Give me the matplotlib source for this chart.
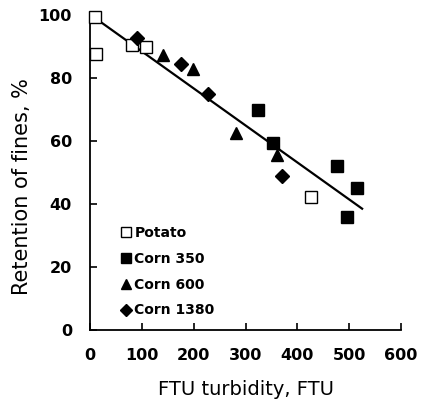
import matplotlib
matplotlib.use("Agg")
import matplotlib.pyplot as plt
import numpy as np

# Data
potato_x = [10, 12, 81, 108, 426]
potato_y = [99.5, 87.5, 90.5, 89.8, 42.2]
corn350_x = [324, 353, 476, 515, 496]
corn350_y = [69.8, 59.4, 52.1, 45.0, 36.0]
corn600_x = [141, 199, 282, 361]
corn600_y = [87.3, 83.0, 62.5, 55.5]
corn1380_x = [91, 176, 228, 370]
corn1380_y = [92.8, 84.3, 74.8, 49.0]
fit_x = [8, 525]
fit_intercept = 100.2
fit_slope = -0.1175

xticks = [0, 100, 200, 300, 400, 500, 600]
yticks = [0, 20, 40, 60, 80, 100]

fig = plt.figure(figsize=(4.21, 4.01), dpi=100)
ax = fig.add_axes([90/421, 71/401, 311/421, 315/401])

ms = 9
ax.plot(potato_x, potato_y, 's', mfc='white', mec='black', mew=1.0, ms=8.5,
        label='Potato', clip_on=False, zorder=3)
ax.plot(corn350_x, corn350_y, 's', color='black', ms=ms, label='Corn 350',
        clip_on=False, zorder=3)
ax.plot(corn600_x, corn600_y, '^', color='black', ms=ms, label='Corn 600',
        clip_on=False, zorder=3)
ax.plot(corn1380_x, corn1380_y, 'D', color='black', ms=7.5, label='Corn 1380',
        clip_on=False, zorder=3)

fx = np.array(fit_x, dtype=float)
ax.plot(fx, fit_intercept + fit_slope * fx, '-', color='black', lw=1.6, zorder=2)

ax.set_xlim(0, 600)
ax.set_ylim(0, 100)
ax.set_xticks(xticks)
ax.set_yticks(yticks)
for s in ['top', 'right']:
    ax.spines[s].set_visible(False)
for s in ['left', 'bottom']:
    ax.spines[s].set_linewidth(1.3)
ax.tick_params(direction='in', length=5, width=1.2, pad=13, labelsize=11.5)
for lab in ax.get_xticklabels() + ax.get_yticklabels():
    lab.set_fontweight('bold')

ax.set_xlabel('FTU turbidity, FTU', fontsize=14, family='DejaVu Sans', labelpad=12)
ax.set_ylabel('Retention of fines, %', fontsize=15, family='DejaVu Sans')
ax.yaxis.set_label_coords(-0.185, 0.455)

leg = ax.legend(loc='lower left', bbox_to_anchor=(0.06, 0.0), frameon=False,
                handlelength=0.7, handletextpad=0.25, labelspacing=0.85,
                markerscale=0.85, prop={'weight': 'bold', 'size': 10})

fig.savefig('out.png', dpi=100)
